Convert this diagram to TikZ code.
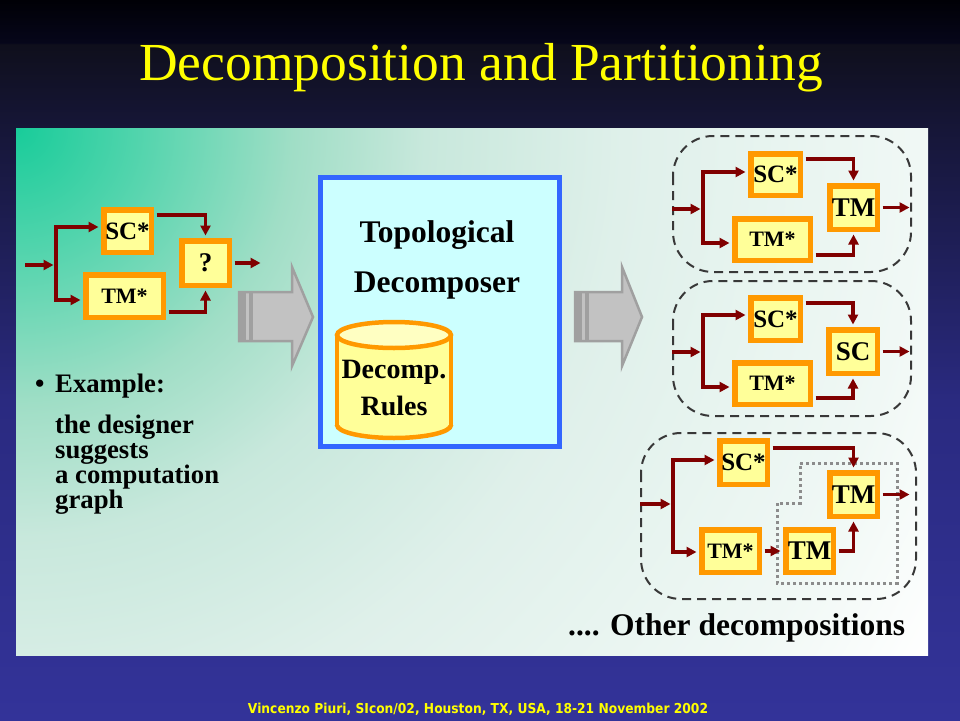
\documentclass[tikz,border=0pt]{standalone}
\usepackage{fontspec}
\usepackage{graphicx}
\setmainfont{Liberation Serif}
\newfontfamily\footfont{DejaVu Sans}
\usetikzlibrary{arrows.meta,calc}
\definecolor{maroonc}{HTML}{800000}
\definecolor{orangec}{HTML}{FF9900}
\definecolor{yellowc}{HTML}{FFFF99}
\definecolor{bluec}{HTML}{3366FF}
\definecolor{cyanc}{HTML}{CCFFFF}
\definecolor{titlec}{HTML}{FFFF00}
\definecolor{dashc}{HTML}{383838}
\definecolor{dotc}{HTML}{8C8C8C}
\definecolor{gfill}{HTML}{C2C2C2}
\definecolor{gdark}{HTML}{A0A0A0}
% background
\definecolor{bgtop}{HTML}{000006}
\definecolor{bgtopb}{HTML}{06061A}
\definecolor{bgta}{HTML}{0F0F1C}
\definecolor{bgtb}{HTML}{161638}
\definecolor{bgm}{HTML}{2A2A80}
\definecolor{bgb}{HTML}{333399}
% panel
\definecolor{pa}{HTML}{18CC9A}
\definecolor{pb}{HTML}{50D4AC}
\definecolor{pc}{HTML}{A0DEC6}
\definecolor{pd}{HTML}{C8E8DC}
\definecolor{pe}{HTML}{DFF0EA}
\definecolor{pf}{HTML}{F0F8F5}
\pgfdeclareverticalshading{bgshade}{100bp}{color(0bp)=(bgb); color(25bp)=(bgb); color(47.2bp)=(bgm); color(66bp)=(bgtb); color(71.9bp)=(bgta); color(72.05bp)=(bgtopb); color(75bp)=(bgtop); color(100bp)=(bgtop)}
\pgfdeclareradialshading{panelshade}{\pgfpoint{0bp}{0bp}}{color(0bp)=(pa); color(2.7bp)=(pb); color(6.3bp)=(pc); color(9.3bp)=(pd); color(13.8bp)=(pe); color(20.5bp)=(pf); color(24bp)=(white); color(50bp)=(white)}
\begin{document}
\begin{tikzpicture}[x=1pt,y=-1pt,
  box/.style={draw=orangec, fill=yellowc, line width=5.5pt, inner sep=0pt},
  fsc/.style={font=\fontsize{25}{28}\selectfont\bfseries},
  ftms/.style={font=\fontsize{22}{26}\selectfont\bfseries},
  ftm/.style={font=\fontsize{27}{30}\selectfont\bfseries},
  arr/.style={draw=maroonc, line width=3.6pt, -{Triangle[length=10pt,width=10pt]}, shorten >=2.5pt},
  grp/.style={draw=dashc, line width=2pt, dash pattern=on 9pt off 6pt, rounded corners=40pt},
  garrow/.style={fill=gfill, draw=gdark, line width=2.5pt, line join=miter},
  big/.style={font=\fontsize{31.5}{36}\selectfont\bfseries},
  ex/.style={font=\fontsize{26.7}{30}\selectfont\bfseries, inner sep=0pt}]
\useasboundingbox (0,0) rectangle (960,720);
\shade[shading=bgshade] (0,0) rectangle (960,720);
\begin{scope}
\clip (16,128) rectangle (928,655);
\shade[shading=panelshade] (16,128) circle [radius=1100];
\end{scope}

\node[anchor=base, text=titlec, font=\fontsize{53.5}{60}\selectfont, inner sep=0pt] (title) at (481,80) {Decomposition and Partitioning};

% ---------- left graph ----------
\node[box, fsc, minimum width=47.5pt, minimum height=42.5pt] (sc) at (127.5,231) {SC*};
\node[box, ftms, minimum width=77.5pt, minimum height=42.5pt] (tm) at (124.5,296) {TM*};
\node[box, ftm, minimum width=47.5pt, minimum height=44.5pt] (q) at (205.5,263) {?};
\coordinate (in0) at (25,265);
\coordinate (br0) at (56,265);
\coordinate (bt0) at (56,227);
\coordinate (bb0) at (56,300);
\coordinate (out0) at (263,263);
\draw[arr] (in0) -- (br0);
\draw[arr] (br0) |- (sc.west |- bt0);
\draw[arr] (br0) |- (tm.west |- bb0);
\draw[arr, shorten <=2.5pt] ($(sc.east)+(0,-16)$) -| (q.north);
\draw[arr, shorten <=2.5pt] ($(tm.east)+(0,16)$) -| (q.south);
\draw[arr, shorten <=2.5pt] (q.east) -- (out0);

% ---------- gray arrows ----------
\draw[garrow] (239,292) -- (292,292) -- (292,267) -- (313,317) -- (292,366) -- (292,341) -- (239,341) -- cycle;
\fill[gdark] (239,292) rectangle (246,341);
\draw[gdark, line width=4pt] (250.5,292) -- (250.5,341);
\draw[garrow] (575,292) -- (622,292) -- (622,267) -- (642,317) -- (622,366) -- (622,341) -- (575,341) -- cycle;
\fill[gdark] (575,292) rectangle (582,341);
\draw[gdark, line width=4pt] (586.5,292) -- (586.5,341);

% ---------- decomposer ----------
\node[draw=bluec, fill=cyanc, line width=5pt, minimum width=239pt, minimum height=269pt, inner sep=0pt] (dec) at (440,312) {};
\node[big, anchor=base, inner sep=0pt] (topo) at (437,242) {Topological};
\node[big, anchor=base, inner sep=0pt] (decn) at (437,292) {Decomposer};
% cylinder
\fill[yellowc] (337,335) rectangle (451,425);
\fill[yellowc] (394,425) ellipse [x radius=57, y radius=13];
\begin{scope}
\clip (325,425) rectangle (465,450);
\draw[orangec, line width=4.5pt] (394,425) ellipse [x radius=57, y radius=13];
\end{scope}
\draw[orangec, line width=4.5pt] (337,335) -- (337,425) (451,335) -- (451,425);
\filldraw[fill=yellowc!60!white, draw=orangec, line width=4.5pt] (394,335) ellipse [x radius=57, y radius=13];
\node[font=\fontsize{28}{32}\selectfont\bfseries, anchor=base, inner sep=0pt] (rules1) at (394,378) {Decomp.};
\node[font=\fontsize{28}{32}\selectfont\bfseries, anchor=base, inner sep=0pt] (rules2) at (394,415) {Rules};

% ---------- example text ----------
\node[ex, anchor=base west] (bul) at (35,392) {\textbullet};
\node[ex, anchor=base west] (ex1) at (55,392) {Example:};
\node[ex, anchor=base west] (ex2) at (55,433) {the designer};
\node[ex, anchor=base west] (ex3) at (55,458) {suggests};
\node[ex, anchor=base west] (ex4) at (55,483) {a computation};
\node[ex, anchor=base west] (ex5) at (55,508) {graph};

% ---------- group 1 ----------
\draw[grp] (673,136) rectangle (911,272);
\node[box, fsc, minimum width=49.5pt, minimum height=41.5pt] (g1sc) at (775.5,174.5) {SC*};
\node[box, ftm, minimum width=47.5pt, minimum height=43.5pt] (g1tm) at (853.5,207.5) {TM};
\node[box, ftms, minimum width=75.5pt, minimum height=41.5pt] (g1tms) at (772.5,239.5) {TM*};
\coordinate (g1in) at (672,209);
\coordinate (g1br) at (703,209);
\coordinate (g1t) at (703,172);
\coordinate (g1b) at (703,243);
\coordinate (g1out) at (912,209);
\draw[arr] (g1in) -- (g1br);
\draw[arr] (g1br) |- (g1sc.west |- g1t);
\draw[arr] (g1br) |- (g1tms.west |- g1b);
\draw[arr, shorten <=2.5pt] ($(g1sc.east)+(0,-15.5)$) -| (g1tm.north);
\draw[arr, shorten <=2.5pt] ($(g1tms.east)+(0,15.5)$) -| (g1tm.south);
\draw[arr, shorten <=2.5pt] (g1tm.east) -- (g1tm.east -| g1out);

% ---------- group 2 ----------
\draw[grp] (673,281) rectangle (911,416);
\node[box, fsc, minimum width=49.5pt, minimum height=42.5pt] (g2sc) at (775.5,319) {SC*};
\node[box, ftm, minimum width=48.5pt, minimum height=43.5pt] (g2s) at (853,351.5) {SC};
\node[box, ftms, minimum width=75.5pt, minimum height=41.5pt] (g2tms) at (772.5,383.5) {TM*};
\coordinate (g2in) at (672,352);
\coordinate (g2br) at (703,352);
\coordinate (g2t) at (703,315);
\coordinate (g2b) at (703,387);
\coordinate (g2out) at (912,352);
\draw[arr] (g2in) -- (g2br);
\draw[arr] (g2br) |- (g2sc.west |- g2t);
\draw[arr] (g2br) |- (g2tms.west |- g2b);
\draw[arr, shorten <=2.5pt] ($(g2sc.east)+(0,-16)$) -| (g2s.north);
\draw[arr, shorten <=2.5pt] ($(g2tms.east)+(0,14.5)$) -| (g2s.south);
\draw[arr, shorten <=2.5pt] (g2s.east) -- (g2s.east -| g2out);

% ---------- group 3 ----------
\draw[grp] (641,433) rectangle (916,599);
\draw[dotc, line width=3pt, dash pattern=on 3pt off 3pt] (800,463) -- (897,463) -- (897,583) -- (777,583) -- (777,503) -- (800,503) -- cycle;
\node[box, fsc, minimum width=47.5pt, minimum height=43.5pt] (g3sc) at (743.5,462.5) {SC*};
\node[box, ftm, minimum width=47.5pt, minimum height=43.5pt] (g3tm) at (853.5,494.5) {TM};
\node[box, ftms, minimum width=57.5pt, minimum height=42.5pt] (g3tms) at (730.5,551) {TM*};
\node[box, ftm, minimum width=47.5pt, minimum height=42.5pt] (g3tmb) at (809.5,551) {TM};
\coordinate (g3in) at (640,504);
\coordinate (g3br) at (673,504);
\coordinate (g3t) at (673,460);
\coordinate (g3b) at (673,552);
\coordinate (g3out) at (912,496);
\draw[arr] (g3in) -- (g3br);
\draw[arr] (g3br) |- (g3sc.west |- g3t);
\draw[arr] (g3br) |- (g3tms.west |- g3b);
\draw[arr, shorten <=2.5pt] ($(g3sc.east)+(0,-14.5)$) -| (g3tm.north);
\draw[arr, shorten <=2.5pt] (g3tms.east) -- (g3tmb.west);
\draw[arr, shorten <=2.5pt] (g3tmb.east) -| (g3tm.south);
\draw[arr, shorten <=2.5pt] (g3tm.east) -- (g3tm.east -| g3out);

\node[anchor=base west, font=\fontsize{31.5}{36}\selectfont\bfseries, inner sep=0pt] (other) at (568,635) {.... Other decompositions};

\node[anchor=base, text=titlec, inner sep=0pt] (foot) at (478,713) {\resizebox{460pt}{10.4pt}{\footfont\bfseries Vincenzo Piuri, SIcon/02, Houston, TX, USA, 18-21 November 2002}};
\end{tikzpicture}
\end{document}
